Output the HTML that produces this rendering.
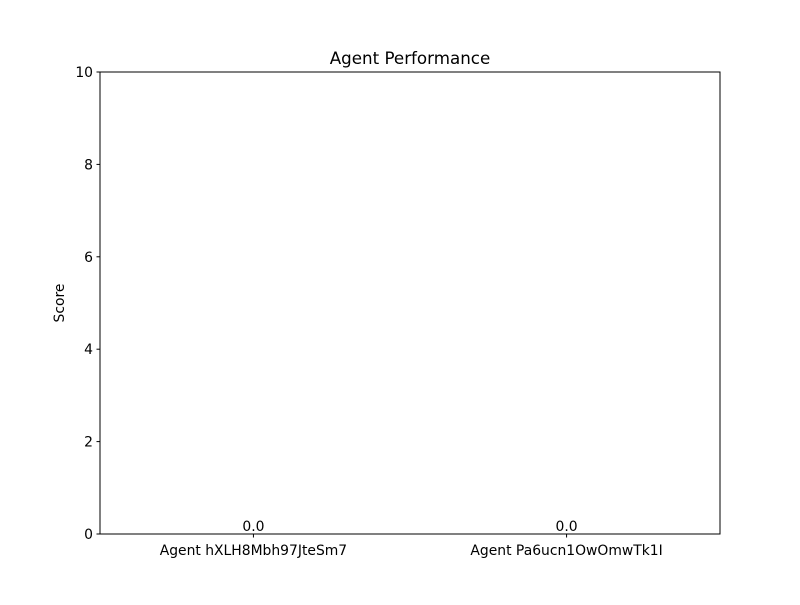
<!DOCTYPE html>
<html><head><meta charset="utf-8"><style>
body{margin:0;background:#fff;}
svg text{font-family:"DejaVu Sans","Liberation Sans",sans-serif;fill:#000;}
</style></head><body>
<svg width="800" height="600" viewBox="0 0 800 600">
<rect x="0" y="0" width="800" height="600" fill="#fff"/>
<text x="410" y="64" font-size="16.7" text-anchor="middle">Agent Performance</text>
<g id="plot"></g>
<text transform="translate(64,303) rotate(-90)" font-size="13.9" text-anchor="middle">Score</text>
<rect x="100" y="72" width="620" height="462" fill="none" stroke="#000" stroke-width="1"/>
</svg>
<script>
const categories=["Agent hXLH8Mbh97JteSm7","Agent Pa6ucn1OwOmwTk1I"];
const scores=[0.0,0.0];
const yTicks=[0,2,4,6,8,10];
const L=100,R=720,T=72,B=534;
const xmin=-0.49,xmax=categories.length-1+0.49;
function xs(v){return L+(v-xmin)/(xmax-xmin)*(R-L);}
function ys(v){return B-(v-0)/(10-0)*(B-T);}
const g=document.getElementById('plot');
const NS='http://www.w3.org/2000/svg';
function mk(t,a){const e=document.createElementNS(NS,t);for(const k in a)e.setAttribute(k,a[k]);g.appendChild(e);return e;}
yTicks.forEach(v=>{
  const l=mk('line',{x1:L-3.5,x2:L,y1:ys(v),y2:ys(v),stroke:'#000'});
  
  
  const t=mk('text',{x:L-7,y:ys(v)+5,'font-size':13.9,'text-anchor':'end'});
  t.textContent=v;
  
  
});
categories.forEach((c,i)=>{
  const x=xs(i);
  const bw=(xs(0.4)-xs(-0.4));
  const r=mk('rect',{x:x-bw/2,y:ys(scores[i]),width:bw,height:ys(0)-ys(scores[i]),fill:'#1f77b4'});
  
  
  const l=mk('line',{x1:x,x2:x,y1:B,y2:B+3.5,stroke:'#000'});
  
  
  const t=mk('text',{x:x,y:B+21,'font-size':13.9,'text-anchor':'middle'});
  t.textContent=c;
  
  
  const v=mk('text',{x:x,y:ys(scores[i])-3,'font-size':13.9,'text-anchor':'middle'});
  v.textContent=scores[i].toFixed(1);
  
  
});
</script>
</body></html>
